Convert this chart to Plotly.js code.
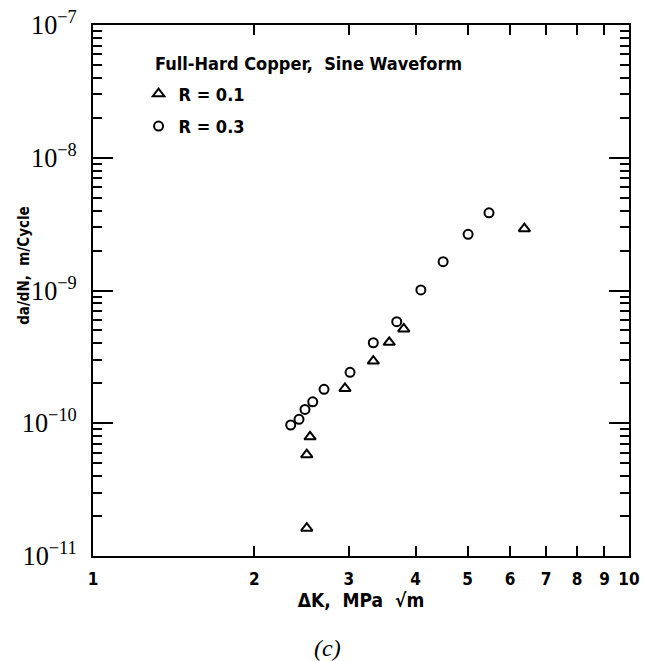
<!DOCTYPE html>
<html>
<head>
<meta charset="utf-8">
<script src="https://cdn.plot.ly/plotly-3.0.1.min.js"></script>
<style>
html,body{margin:0;padding:0;background:#fff;}
#chart{width:645px;height:661px;}
</style>
</head>
<body>
<div id="chart"></div>
<script>
// R = 0.1 (triangles)
var r01_dk   = [2.505, 2.505, 2.541, 2.952, 3.334, 3.57, 3.80, 6.38];
var r01_rate = [1.62e-11, 5.8e-11, 7.9e-11, 1.83e-10, 2.94e-10, 4.07e-10, 5.13e-10, 2.92e-9];
// R = 0.3 (circles)
var r03_dk   = [2.338, 2.423, 2.486, 2.570, 2.698, 3.017, 3.334, 3.687, 4.09, 4.50, 5.01, 5.48];
var r03_rate = [9.7e-11, 1.07e-10, 1.27e-10, 1.45e-10, 1.80e-10, 2.42e-10, 4.04e-10, 5.82e-10, 1.01e-9, 1.65e-9, 2.65e-9, 3.85e-9];
// x tick labels
var xTickVals = [1,2,3,4,5,6,7,8,9,10];
var xTickText = ["1","2","3","4","5","6","7","8","9","10"];

var sansC = "'DejaVu Sans Condensed', 'Liberation Sans Narrow', 'DejaVu Sans', sans-serif";
var serif = "'Liberation Serif', 'DejaVu Serif', serif";

var traces = [
  {x: r01_dk, y: r01_rate, name: 'R = 0.1', type: 'scatter', mode: 'markers',
   legendgroup: 'a',
   marker: {symbol: 'triangle-up-open', size: 10, color: '#000', line: {width: 2, color: '#000'}}},
  {x: r03_dk, y: r03_rate, name: 'R = 0.3', type: 'scatter', mode: 'markers',
   legendgroup: 'b',
   marker: {symbol: 'circle-open', size: 9, color: '#000', line: {width: 2, color: '#000'}}}
];

var layout = {
  width: 645, height: 661,
  margin: {l: 93, r: 16, t: 25, b: 105},
  paper_bgcolor: '#fff', plot_bgcolor: '#fff',
  showlegend: true,
  legend: {x: 0.085, y: 0.905, xanchor: 'left', yanchor: 'top',
           bgcolor: 'rgba(0,0,0,0)', traceorder: 'grouped', tracegroupgap: 6,
           font: {family: sansC, size: 18, color: '#000', weight: 'bold'}},
  xaxis: {
    type: 'log', range: [0, 1],
    tickvals: xTickVals, ticktext: xTickText,
    ticks: 'inside', ticklen: 10, tickwidth: 2, tickcolor: '#000',
    showline: true, linewidth: 2, linecolor: '#000', mirror: 'ticks',
    showgrid: false, zeroline: false,
    ticklabelstandoff: 7,
    tickfont: {family: sansC, size: 17, color: '#000', weight: 'bold'},
    title: {text: 'ΔK,  MPa  √m', font: {family: sansC, size: 19, color: '#000', weight: 'bold'}, standoff: 5}
  },
  yaxis: {
    type: 'log', range: [-11, -7], dtick: 1,
    exponentformat: 'power',
    ticks: 'inside', ticklen: 20, tickwidth: 2, tickcolor: '#000',
    minor: {ticks: 'inside', ticklen: 9, tickwidth: 2, tickcolor: '#000', dtick: 'D1', showgrid: false},
    showline: true, linewidth: 2, linecolor: '#000', mirror: 'ticks',
    showgrid: false, zeroline: false,
    ticklabelstandoff: 10,
    tickfont: {family: serif, size: 21, color: '#000'}
  },
  annotations: [
    {text: 'Full-Hard Copper,  Sine Waveform', xref: 'paper', yref: 'paper',
     x: 0.112, y: 0.928, xanchor: 'left', yanchor: 'middle', showarrow: false,
     font: {family: sansC, size: 18, color: '#000', weight: 'bold'}},
    {text: 'da/dN,  m/Cycle', xref: 'paper', yref: 'paper', textangle: -90,
     x: -0.13, y: 0.547, xanchor: 'center', yanchor: 'middle', showarrow: false,
     font: {family: sansC, size: 15, color: '#000', weight: 'bold'}},
    {text: '<i>(c)</i>', xref: 'paper', yref: 'paper',
     x: 0.437, y: -0.173, xanchor: 'center', yanchor: 'middle', showarrow: false,
     font: {family: serif, size: 24, color: '#000'}}
  ]
};

Plotly.newPlot('chart', traces, layout, {staticPlot: true, displayModeBar: false});
</script>
</body>
</html>
